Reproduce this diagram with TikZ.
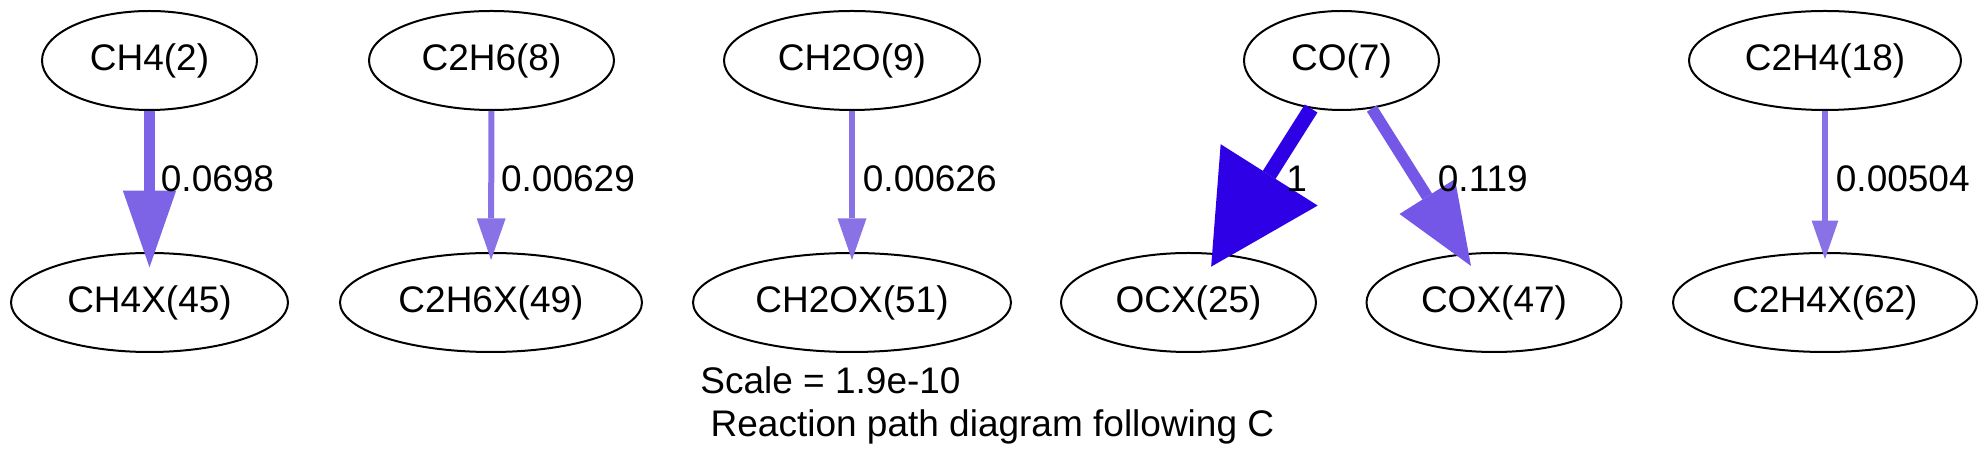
\documentclass[tikz,border=0pt]{standalone}
\usepackage{fontspec}
\setmainfont{Liberation Sans}
\usetikzlibrary{arrows.meta,shapes.geometric}
\definecolor{fluxOne}{RGB}{46,0,230}
\definecolor{fluxCOX}{RGB}{116,87,230}
\definecolor{fluxCHfour}{RGB}{125,99,230}
\definecolor{fluxLow}{RGB}{137,113,230}
\definecolor{fluxCtwoHfour}{RGB}{137,114,230}
\begin{document}
\begin{tikzpicture}[x=0.5pt,y=-0.5pt,
  species/.style={ellipse,draw=black,line width=1pt,inner sep=0pt,minimum height=49.5pt,
    font=\fontsize{18.5}{21.7}\selectfont},
  fluxlabel/.style={anchor=base west,inner sep=0pt,font=\fontsize{18.5}{21.7}\selectfont},
  fluxarrow/.style n args={4}{draw=#1,line width=#2,
    -{Triangle[length=#3,width=#4,line width=0pt]}}]
\useasboundingbox (0,0) rectangle (1988,469);
% top row
\node[species,minimum width=107.5pt] (ch4)  at (149.5,60.5) {CH4(2)};
\node[species,minimum width=122.5pt] (c2h6) at (491.5,60.5) {C2H6(8)};
\node[species,minimum width=128pt]   (ch2o) at (852,60.5)   {CH2O(9)};
\node[species,minimum width=97.5pt]  (co)   at (1341.5,60.5) {CO(7)};
\node[species,minimum width=136pt]   (c2h4) at (1825,60.5)  {C2H4(18)};
% bottom row
\node[species,minimum width=138.5pt] (ch4x)  at (149.5,302.5) {CH4X(45)};
\node[species,minimum width=151pt]   (c2h6x) at (491,302.5)   {C2H6X(49)};
\node[species,minimum width=159pt]   (ch2ox) at (852,302.5)   {CH2OX(51)};
\node[species,minimum width=127.5pt] (ocx)   at (1188.5,302.5) {OCX(25)};
\node[species,minimum width=127.5pt] (cox)   at (1494,302.5)  {COX(47)};
\node[species,minimum width=152pt]   (c2h4x) at (1825,302.5)  {C2H4X(62)};
% connectors
\draw[fluxarrow={fluxCHfour}{5.4pt}{38.3pt}{26.65pt},shorten >=-7.65pt] (ch4) -- (ch4x);
\draw[fluxarrow={fluxLow}{3pt}{20.85pt}{14.5pt},shorten >=-4pt] (c2h6) -- (c2h6x);
\draw[fluxarrow={fluxLow}{3pt}{20.85pt}{14.5pt},shorten >=-4pt] (ch2o) -- (ch2ox);
\draw[fluxarrow={fluxOne}{7.5pt}{54.3pt}{57.4pt},shorten >=-7.8pt] (co) -- (ocx);
\draw[fluxarrow={fluxCOX}{5.75pt}{41pt}{32.75pt},shorten >=-7.35pt] (co) -- (cox);
\draw[fluxarrow={fluxCtwoHfour}{2.65pt}{19.15pt}{13.35pt},shorten >=-3.5pt] (c2h4) -- (c2h4x);
% labels
\node[fluxlabel] (lch4)  at (160.5,192)  {0.0698};
\node[fluxlabel] (lc2h6) at (500.7,192)  {0.00629};
\node[fluxlabel] (lch2o) at (862.5,192)  {0.00626};
\node[fluxlabel] (locx)  at (1286,192)   {1};
\node[fluxlabel] (lcox)  at (1437.5,192) {0.119};
\node[fluxlabel] (lc2h4) at (1835.5,192) {0.00504};
\node[fluxlabel] (scale) at (700,393.3)  {Scale = 1.9e-10};
\node[fluxlabel] (title) at (710.3,436.7) {Reaction path diagram following C};
\end{tikzpicture}
\end{document}
